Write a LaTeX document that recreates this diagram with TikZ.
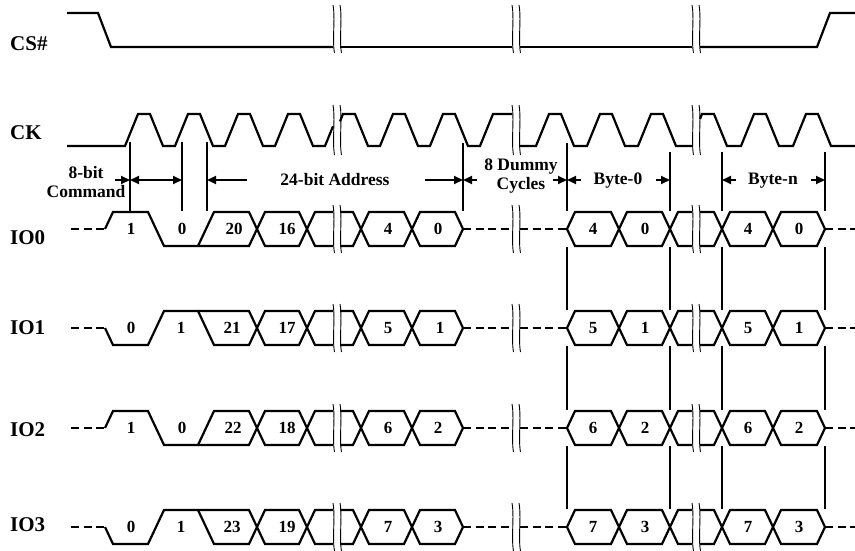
\documentclass[tikz,border=0pt]{standalone}
\usepackage{fontspec}
\setmainfont{Liberation Serif}
\usetikzlibrary{arrows.meta}
\tikzset{
 wave/.style={line width=2.2pt},
 dashwave/.style={line width=2.6pt, dash pattern=on 8pt off 4.5pt},
 marker/.style={line width=1.6pt},
 brkline/.style={line width=0.9pt},
 dimarrow/.style={line width=2pt, -{Triangle[length=9pt,width=8pt]}},
 dimboth/.style={line width=2pt, {Triangle[length=9pt,width=8pt]}-{Triangle[length=9pt,width=8pt]}},
 sig/.style={font=\fontsize{21}{21}\selectfont\bfseries, anchor=west, inner sep=0pt},
 ann/.style={font=\fontsize{17.5}{19}\selectfont\bfseries, inner sep=0pt, align=center},
 bit/.style={font=\fontsize{17}{17}\selectfont\bfseries, inner sep=0pt},
}
\newcommand\brkmark[3]{%
  \draw[brkline] (#1,#2) .. controls (#1+2.5,#2+14) and (#1-1,#3-14) .. (#1+1.5,#3);
  \draw[brkline] (#1+7,#2) .. controls (#1+9.5,#2+14) and (#1+6,#3-14) .. (#1+8.5,#3);
}
% #1 mid y, #2 first level, #3 second level
\newcommand\iorow[3]{%
  \draw[dashwave] (71,#1) -- (105,#1);
  \draw[wave] (105,#1) -- (113,#2) -- (148,#2) -- (164,#3) -- (198,#3) -- (214,#2) -- (249,#2) -- (265,#3) -- (299,#3) -- (315,#2) -- (333,#2);
  \draw[wave] (198,#3) -- (249,#3) -- (265,#2) -- (299,#2) -- (315,#3) -- (333,#3);
  \draw[wave] (340,#2) -- (353,#2) -- (369,#3) -- (404,#3) -- (420,#2) -- (455,#2) -- (463,#1) -- (455,#3) -- (420,#3) -- (404,#2) -- (369,#2) -- (353,#3) -- (340,#3);
  \draw[dashwave] (463,#1) -- (512,#1);
  \draw[dashwave] (520,#1) -- (567,#1);
  \draw[wave] (692,#2) -- (678,#2) -- (662,#3) -- (627,#3) -- (611,#2) -- (575,#2) -- (567,#1) -- (575,#3) -- (611,#3) -- (627,#2) -- (662,#2) -- (678,#3) -- (692,#3);
  \draw[wave] (700,#2) -- (714,#2) -- (730,#3) -- (765,#3) -- (781,#2) -- (817,#2) -- (825,#1) -- (817,#3) -- (781,#3) -- (765,#2) -- (730,#2) -- (714,#3) -- (700,#3);
  \draw[dashwave] (825,#1) -- (855,#1);
  \brkmark{333}{#1-24}{#1+24}
  \brkmark{512}{#1-24}{#1+24}
  \brkmark{692}{#1-24}{#1+24}
}
\begin{document}
\begin{tikzpicture}[x=1pt,y=-1pt]
\useasboundingbox[fill=white] (0,0) rectangle (855,550);

% signal labels
\node[sig] (lcs) at (10,44) {CS\#};
\node[sig] (lck) at (10,133) {CK};
\node[sig] (lio0) at (10,238) {IO0};
\node[sig] (lio1) at (10,328) {IO1};
\node[sig] (lio2) at (10,430) {IO2};
\node[sig] (lio3) at (10,525) {IO3};

% CS#
\draw[wave] (67,13) -- (98,13) -- (111,47) -- (333,47);
\draw[wave] (340,47) -- (512,47);
\draw[wave] (520,47) -- (692,47);
\draw[wave] (700,47) -- (817,47) -- (830,13) -- (855,13);
\brkmark{333}{5}{53}
\brkmark{512}{5}{53}
\brkmark{692}{5}{53}

% CK
\draw[wave] (67,146) -- (125,146) \foreach \a in {125,175,225,275}{ -- (\a+13,114) -- (\a+25,114) -- (\a+38,146) -- (\a+50,146)} -- (333,126.3);
\draw[wave] (340,121.4) -- (343,114) -- (355,114) -- (368,146) -- (380,146) \foreach \a in {380,430}{ -- (\a+13,114) -- (\a+25,114) -- (\a+38,146) -- (\a+50,146)} -- (493,114) -- (512,114);
\draw[wave] (520,146) -- (536,146) \foreach \a in {536,587,638}{ -- (\a+13,114) -- (\a+25,114) -- (\a+38,146) -- (\a+51,146)} -- (692,146);
\draw[wave] (700,119) -- (702,114) -- (714,114) -- (727,146) -- (741,146) \foreach \a in {741,793}{ -- (\a+13,114) -- (\a+25,114) -- (\a+38,146) -- (\a+52,146)} -- (855,146);
\brkmark{333}{105}{155}
\brkmark{512}{105}{155}
\brkmark{692}{105}{155}

% IO rows
\iorow{229}{212}{246}
\iorow{328}{345}{311}
\iorow{428}{411}{445}
\iorow{527}{544}{510}

% digits
\foreach \xx/\lab [count=\i] in {131/1,182/0,234/20,287/16,388/4,438/0,593/4,645/0,748/4,799/0}
  \node[bit] (a\i) at (\xx,229) {\lab};
\foreach \xx/\lab [count=\i] in {131/0,181/1,232/21,287/17,388/5,440/1,593/5,645/1,748/5,799/1}
  \node[bit] (b\i) at (\xx,328) {\lab};
\foreach \xx/\lab [count=\i] in {131/1,182/0,233/22,287/18,388/6,438/2,593/6,645/2,748/6,799/2}
  \node[bit] (c\i) at (\xx,428) {\lab};
\foreach \xx/\lab [count=\i] in {131/0,181/1,232/23,287/19,388/7,438/3,593/7,645/3,748/7,799/3}
  \node[bit] (d\i) at (\xx,527) {\lab};

% vertical markers
\foreach \xx in {130,182,207} \draw[marker] (\xx,142) -- (\xx,211);
\foreach \xx in {463,567} \draw[marker] (\xx,143) -- (\xx,211);
\foreach \xx in {670,722,825} \draw[marker] (\xx,152) -- (\xx,211);
\foreach \xx in {567,670,722,825} {
  \draw[marker] (\xx,247) -- (\xx,310);
  \draw[marker] (\xx,346) -- (\xx,410);
  \draw[marker] (\xx,446) -- (\xx,509);
}

% dimension coordinates
\coordinate (p130) at (130,180);
\coordinate (p182) at (182,180);
\coordinate (p207) at (207,180);
\coordinate (p463) at (463,180);
\coordinate (p567) at (567,180);
\coordinate (p670) at (670,180);
\coordinate (p722) at (722,180);
\coordinate (p825) at (825,180);
\coordinate (s1) at (115,180);
\coordinate (s2) at (247,180);
\coordinate (s3) at (425,180);
\coordinate (s4) at (477,180);
\coordinate (s5) at (553,180);
\coordinate (s6) at (581,180);
\coordinate (s7) at (656,180);
\coordinate (s8) at (736,180);
\coordinate (s9) at (811,180);

\draw[dimarrow] (s1) -- (p130);
\draw[dimboth] (p130) -- (p182);
\draw[dimarrow] (s2) -- (p207);
\draw[dimarrow] (s3) -- (p463);
\draw[dimarrow] (s4) -- (p463);
\draw[dimarrow] (s5) -- (p567);
\draw[dimarrow] (s6) -- (p567);
\draw[dimarrow] (s7) -- (p670);
\draw[dimarrow] (s8) -- (p722);
\draw[dimarrow] (s9) -- (p825);

\node[ann] (tcmd) at (86,182) {8-bit\\Command};
\node[ann] (taddr) at (335,180) {24-bit Address};
\node[ann] (tdum) at (521,176) {8 Dummy\\Cycles};
\node[ann] (tb0) at (618,181) {Byte-0};
\node[ann] (tbn) at (773,181) {Byte-n};
\end{tikzpicture}
\end{document}
